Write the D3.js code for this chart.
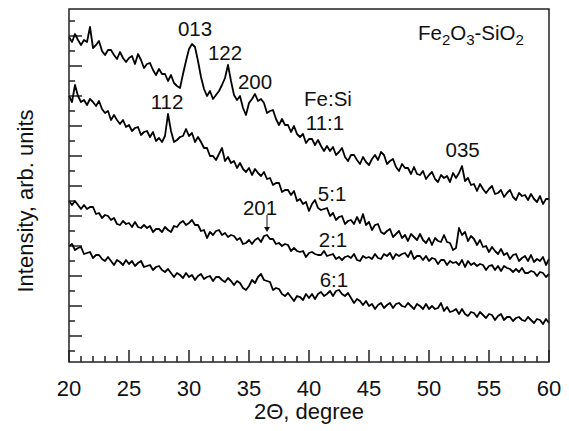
<!DOCTYPE html>
<html>
<head>
<meta charset="utf-8">
<script src="https://cdn.jsdelivr.net/npm/d3@7"></script>
<style>
  body { margin: 0; background: #fff; }
  text { font-family: "Liberation Sans", Arial, sans-serif; fill: #111; }
</style>
</head>
<body>
<div id="chart-area"></div>
<script>
// 2-theta grid of the scans, degrees (0.25 degree step)
let twoTheta = d3.range(0, 161).map(i => 20 + i * 0.25);

// intensities, arb. units, one value per grid point
let fe11 = [314,309,317,311,306,311,309,324,303,306,310,300,296,301,301,296,292,299,293,289,
  293,295,287,297,291,283,287,288,281,276,282,277,277,270,276,268,265,263,277,290,
  302,307,304,290,274,262,255,260,252,256,260,266,273,286,270,256,251,255,243,236,
  248,252,257,250,252,248,238,240,241,232,226,232,226,226,219,225,217,214,217,208,
  212,212,206,211,205,200,205,200,204,196,199,203,194,190,196,196,191,187,194,189,
  186,192,196,191,199,196,187,190,192,184,180,187,183,183,177,184,177,176,180,172,
  176,179,172,169,176,173,175,169,178,173,178,185,170,173,166,167,160,167,162,158,
  162,165,157,158,161,154,158,161,154,151,158,155,156,151,157,152,149,155,147,152,152];

let fe5 = [255,249,266,255,249,251,246,252,249,245,250,242,238,240,231,236,231,227,231,224,
  226,220,223,224,216,219,220,214,219,210,213,209,215,237,220,209,211,214,215,222,
  215,218,209,214,209,203,203,195,195,191,197,203,190,194,188,190,183,188,182,179,
  183,176,182,178,175,179,172,173,166,168,168,159,161,161,156,160,150,152,147,149,
  140,147,151,143,141,142,143,135,138,131,134,135,127,130,131,127,134,128,137,126,
  129,121,126,127,119,117,120,122,114,117,120,113,116,110,117,114,111,117,111,108,
  113,106,113,110,109,116,109,108,101,103,123,116,119,110,115,112,106,111,104,105,
  99,104,100,97,102,96,98,92,96,97,90,93,95,90,96,89,92,90,94,86,92];

let fe2 = [150,146,150,146,142,146,142,144,144,137,138,133,136,135,131,133,127,126,130,127,
  128,124,129,124,123,126,123,125,119,122,122,119,124,121,119,125,124,128,130,126,
  128,131,126,126,120,121,113,119,116,120,121,116,118,114,116,115,111,113,107,108,
  111,107,111,113,109,115,116,112,112,107,108,105,107,106,100,103,100,99,100,94,
  98,99,97,96,96,100,95,96,97,92,94,91,94,95,93,97,91,90,95,93,
  94,92,97,93,92,97,95,98,92,97,95,97,98,94,100,92,95,95,91,95,
  90,93,92,87,91,91,86,90,88,89,86,91,84,90,86,88,85,87,86,81,
  85,86,81,85,80,85,83,82,79,82,79,83,78,78,80,79,75,79,78,74,77];

let fe6 = [105,107,101,103,104,97,98,99,93,96,96,92,90,94,90,86,91,89,86,91,
  87,90,85,88,90,84,85,86,81,84,85,81,79,82,78,74,78,76,73,78,
  74,76,71,75,77,72,74,75,70,74,74,71,69,73,70,66,70,68,63,61,
  65,71,68,74,77,71,70,69,61,63,62,57,55,58,54,50,55,54,51,57,
  53,57,52,57,59,55,57,60,55,60,61,57,55,58,53,48,52,50,46,50,
  45,47,42,46,48,43,46,48,43,47,48,45,44,48,45,42,47,45,42,47,
  42,45,42,43,48,40,44,39,40,42,37,42,37,35,39,38,34,39,36,33,
  37,36,31,35,37,31,34,34,30,33,34,31,30,34,31,28,32,31,27,32,28];

let seriesList = [fe11, fe5, fe2, fe6];

// reflection labels and sample labels, in data coordinates
let labelText  = ["013", "122", "200", "112", "Fe:Si", "11:1", "035", "5:1", "2:1", "6:1", "201"];
let labelTheta = [30.5, 33.0, 35.5, 28.17, 41.58, 41.33, 52.8, 41.92, 42.0, 42.08, 35.92];
let labelInt   = [322.5, 298.5, 269, 249, 252, 228, 201.5, 157, 111, 71, 143];

let xTicks = d3.range(20, 61, 1);
let xTickLabels = d3.range(20, 61, 5);
let yTicks = d3.range(0, 343, 15);

let width = 569;
let height = 431;
let margin = {left: 69, right: 20, top: 9, bottom: 69};

let svg = d3.select("#chart-area")
            .append("svg")
            .attr("width", width)
            .attr("height", height);

let x = d3.scaleLinear()
          .domain([20, 60])
          .range([margin.left, width - margin.right]);

let y = d3.scaleLinear()
          .domain([-11, 342])
          .range([height - margin.bottom, margin.top]);

// inward ticks on bottom and left
svg.selectAll(".xtick")
   .data(xTicks)
   .enter()
   .append("line")
   .attr("x1", d => x(d)).attr("x2", d => x(d))
   .attr("y1", y.range()[0])
   .attr("y2", d => y.range()[0] - (d % 5 === 0 ? 12 : 6))
   .attr("stroke", "#111")
   .attr("stroke-width", 1.4);

svg.selectAll(".ytick")
   .data(yTicks)
   .enter()
   .append("line")
   .attr("x1", x.range()[0])
   .attr("x2", d => x.range()[0] + ((d / 15) % 2 === 1 ? 13 : 6))
   .attr("y1", d => y(d)).attr("y2", d => y(d))
   .attr("stroke", "#111")
   .attr("stroke-width", 1.4);

svg.selectAll(".xlabel")
   .data(xTickLabels)
   .enter()
   .append("text")
   .attr("x", d => x(d))
   .attr("y", 388)
   .attr("dy", "0.35em")
   .attr("text-anchor", "middle")
   .style("font-size", "22px")
   .text(d => d);

let line = d3.line()
             .x((d, i) => x(twoTheta[i]))
             .y(d => y(d));

svg.selectAll(".scan")
   .data(seriesList)
   .enter()
   .append("path")
   .attr("d", d => line(d))
   .attr("fill", "none")
   .attr("stroke", "#000")
   .attr("stroke-width", 1.8)
   .attr("stroke-linejoin", "round");

// frame
svg.append("rect")
   .attr("x", x.range()[0])
   .attr("y", y.range()[1])
   .attr("width", x.range()[1] - x.range()[0])
   .attr("height", y.range()[0] - y.range()[1])
   .attr("fill", "none")
   .attr("stroke", "#222")
   .attr("stroke-width", 1.5);

svg.selectAll(".lbl")
   .data(labelText)
   .enter()
   .append("text")
   .attr("x", (d, i) => x(labelTheta[i]))
   .attr("y", (d, i) => y(labelInt[i]))
   .attr("dy", "0.35em")
   .attr("text-anchor", "middle")
   .style("font-size", "20.5px")
   .text(d => d);

// arrow to the 201 reflection
svg.append("line")
   .attr("x1", x(36.5)).attr("x2", x(36.5))
   .attr("y1", y(136)).attr("y2", y(121))
   .attr("stroke", "#111")
   .attr("stroke-width", 1);
svg.append("path")
   .attr("d", "M" + (x(36.5) - 3) + "," + y(124) + "L" + x(36.5) + "," + y(119) + "L" + (x(36.5) + 3) + "," + y(124) + "Z")
   .attr("fill", "#111");

// composition title
let title = svg.append("text")
               .attr("x", x(49.08))
               .attr("y", y(318))
               .attr("dy", "0.35em")
               .style("font-size", "20.5px");
title.append("tspan").text("Fe");
title.append("tspan").attr("dy", 5).style("font-size", "15px").text("2");
title.append("tspan").attr("dy", -5).text("O");
title.append("tspan").attr("dy", 5).style("font-size", "15px").text("3");
title.append("tspan").attr("dy", -5).text("-SiO");
title.append("tspan").attr("dy", 5).style("font-size", "15px").text("2");

svg.append("text")
   .attr("x", (x.range()[0] + x.range()[1]) / 2)
   .attr("y", 411)
   .attr("dy", "0.35em")
   .attr("text-anchor", "middle")
   .style("font-size", "22px")
   .text("2\u0398, degree");

svg.append("text")
   .attr("transform", "translate(25," + 201 + ") rotate(-90)")
   .attr("dy", "0.35em")
   .attr("text-anchor", "middle")
   .style("font-size", "22px")
   .text("Intensity, arb. units");
</script>
</body>
</html>
